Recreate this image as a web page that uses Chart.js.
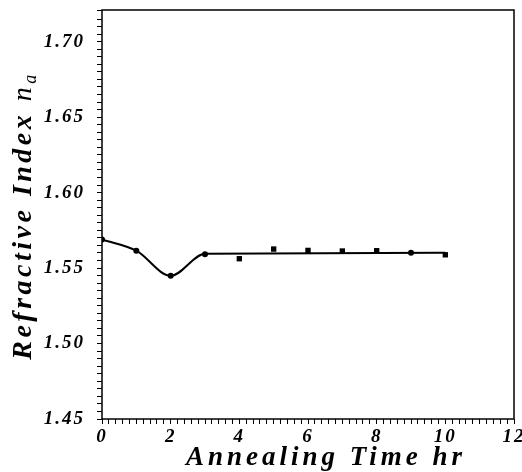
<!DOCTYPE html>
<html>
<head>
<meta charset="utf-8">
<script src="https://cdn.jsdelivr.net/npm/chart.js@4"></script>
<style>
html,body{margin:0;padding:0;background:#fff;}
#wrap{width:522px;height:472px;}
</style>
</head>
<body>
<div id="wrap"><canvas id="c" width="522" height="472"></canvas></div>
<script>
// ---- data ----
const timeHr = [0, 1, 2, 3, 4, 5, 6, 7, 8, 9, 10];
const refractiveIndex = [1.569, 1.5615, 1.5449, 1.5592, 1.5562, 1.5626, 1.5617, 1.5613, 1.5615, 1.5601, 1.5588];
const fitTime = [0, 1, 2, 3, 10];
const fitIndex = [1.569, 1.5615, 1.5449, 1.5595, 1.5602];
const xTickLabels = ['0', '2', '4', '6', '8', '10', '12'];
const yTickLabels = ['1.45', '1.50', '1.55', '1.60', '1.65', '1.70'];
const xTitle = 'Annealing Time hr';
const yTitleMain = 'Refractive Index ';
const yTitleSym = 'n';
const yTitleSub = 'a';

const FONT = 'Liberation Serif';

const spacingPlugin = {
  id: 'spacing',
  beforeUpdate(chart) { chart.ctx.letterSpacing = '2px'; },
  beforeDraw(chart) { chart.ctx.letterSpacing = '2px'; }
};

const framePlugin = {
  id: 'frame',
  afterDraw(chart) {
    const {ctx, chartArea: a} = chart;
    ctx.save();
    ctx.strokeStyle = '#000';
    ctx.lineWidth = 1.5;
    ctx.strokeRect(a.left, a.top, a.right - a.left, a.bottom - a.top);
    // x title
    ctx.fillStyle = '#000';
    ctx.letterSpacing = '4px';
    ctx.font = 'italic bold 27px "' + FONT + '"';
    ctx.textAlign = 'center';
    ctx.textBaseline = 'alphabetic';
    ctx.fillText(xTitle, (a.left + a.right) / 2 + 18, 465);
    // y title
    ctx.letterSpacing = '3.5px';
    ctx.translate(31, (a.top + a.bottom) / 2 + 1);
    ctx.rotate(-Math.PI / 2);
    ctx.textAlign = 'left';
    ctx.font = 'italic bold 28px "' + FONT + '"';
    const mainW = ctx.measureText(yTitleMain).width;
    ctx.font = 'italic 28px "' + FONT + '"';
    const symW = ctx.measureText(yTitleSym).width;
    ctx.font = 'italic 18px "' + FONT + '"';
    const subW = ctx.measureText(yTitleSub).width;
    const total = mainW + symW + subW;
    let x0 = -total / 2;
    ctx.font = 'italic bold 28px "' + FONT + '"';
    ctx.fillText(yTitleMain, x0, 0);
    ctx.font = 'italic 28px "' + FONT + '"';
    ctx.fillText(yTitleSym, x0 + mainW, 0);
    ctx.font = 'italic 18px "' + FONT + '"';
    ctx.fillText(yTitleSub, x0 + mainW + symW, 5);
    ctx.restore();
  }
};

const near = (v, step) => Math.abs(v / step - Math.round(v / step)) < 1e-6;

new Chart(document.getElementById('c'), {
  type: 'scatter',
  data: {
    datasets: [
      {
        type: 'line',
        data: fitTime.map((t, i) => ({x: t, y: fitIndex[i]})),
        borderColor: '#000',
        borderWidth: 2,
        pointRadius: 0,
        cubicInterpolationMode: 'monotone',
        fill: false
      },
      {
        data: timeHr.map((t, i) => ({x: t, y: refractiveIndex[i]})),
        backgroundColor: '#000',
        borderColor: '#000',
        pointStyle: ['circle', 'circle', 'circle', 'circle', 'rect', 'rect', 'rect', 'rect', 'rect', 'circle', 'rect'],
        pointRadius: [3, 3, 3, 3, 3.8, 3.8, 3.8, 3.8, 3.8, 3, 3.8],
        borderWidth: 0
      }
    ]
  },
  plugins: [spacingPlugin, framePlugin],
  options: {
    responsive: false,
    animation: false,
    devicePixelRatio: 1,
    layout: {padding: {top: 10, right: 8, left: 0, bottom: 0}},
    plugins: {legend: {display: false}, tooltip: {enabled: false}},
    scales: {
      x: {
        type: 'linear',
        min: 0, max: 12,
        afterFit(s) { s.height = 53; s.paddingLeft = 0; s.paddingRight = 0; },
        border: {display: false},
        grid: {drawOnChartArea: false, drawTicks: true, tickLength: 5, color: '#000', lineWidth: 1},
        ticks: {
          stepSize: 0.2, autoSkip: false, maxRotation: 0, maxTicksLimit: 1000, padding: 2,
          color: '#000',
          font: {family: FONT, size: 19, style: 'italic', weight: 'bold'},
          callback: v => near(v, 2) ? (xTickLabels[Math.round(v / 2)] ?? '') : ''
        }
      },
      y: {
        type: 'linear',
        min: 1.45, max: 1.721,
        afterFit(s) { s.width = 102; s.paddingTop = 0; s.paddingBottom = 0; },
        border: {display: false},
        grid: {drawOnChartArea: false, drawTicks: true, tickLength: 5, color: '#000', lineWidth: 1},
        ticks: {
          stepSize: 0.005, autoSkip: false, maxTicksLimit: 1000, padding: 12,
          color: '#000',
          font: {family: FONT, size: 19, style: 'italic', weight: 'bold'},
          callback: v => near(v - 1.45, 0.05) ? (yTickLabels[Math.round((v - 1.45) / 0.05)] ?? '') : ''
        }
      }
    }
  }
});
</script>
</body>
</html>
